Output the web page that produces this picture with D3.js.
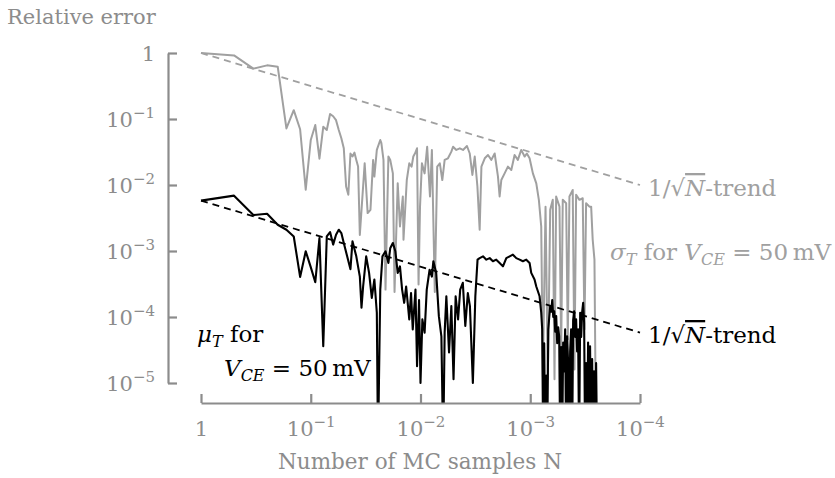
<!DOCTYPE html>
<html>
<head>
<meta charset="utf-8">
<script src="https://cdn.jsdelivr.net/npm/d3@7"></script>
<style>
  body { margin: 0; background: #fff; }
  svg text { font-family: "DejaVu Serif", serif; }
</style>
</head>
<body>
<svg id="chart" width="835" height="478"></svg>
<script>
// values
var sigmaN = [1,2,3,4,5,6,7,8,9,10,11,12,13,14,15,16,17,18,19,20,21,22,23,24,25,26,27,28,
  31,33,35,37,38,40,43,44,46,48,51,53,56,58,62,65,69,70,75,79,83,86,89,93,96,99,103,109,115,122,
  127,135,142,150,158,166,178,191,198,212,228,244,265,281,297,312,330,346,359,385,
  412,442,474,508,526,545,584,626,672,720,771,828,888,931,986,1057,1135,1198,1259,1303,
  1378,1446,1520,1604,1663,1722,1846,1914,1978,2124,2198,2275,2438,2528,2618,2806,3007,3119,3228,3459,
  3589,3707,3846,3981];
var sigmaErr = [1,0.92,0.58,0.65,0.62,0.072,0.136,0.070,0.0085,0.048,
  0.081,0.025,0.076,0.068,0.119,0.11,0.096,0.068,0.051,0.036,
  0.0095,0.0071,0.030,0.027,0.031,0.024,0.019,0.00175,
  0.0213,0.00375,0.0042,0.024,0.0134,0.034,0.048,0.043,0.024,0.00026,
  0.027,0.024,0.015,0.00024,0.0106,0.00235,0.0067,0.00148,0.0119,0.0213,
  0.019,0.027,0.030,0.036,0.00031,0.0047,0.0213,0.015,0.038,0.0067,
  0.034,0.00024,0.019,0.0213,0.0119,0.024,0.0254,0.032,0.038,0.034,
  0.036,0.034,0.039,0.030,0.0142,0.027,0.0095,0.0021,0.019,0.0254,
  0.0285,0.024,0.030,0.0134,0.0067,0.0119,0.015,0.019,0.0169,0.0285,
  0.024,0.034,0.027,0.030,0.0254,0.015,0.0106,0.00596,0.00235,0.0000126,
  0.0047,0.0000114,0.0042,0.00596,0.0000114,0.0067,0.0047,0.000032,0.00596,0.0053,
  0.000046,0.0067,0.0084,0.000016,0.0071,0.00596,0.0063,0.000065,0.0053,0.0047,
  0.0047,0.00148,0.00074,0.000001];

var muN = [1,2,3,4,5,6,7,8,9,10,11,12,13,14,15,16,17,18,19,20,
  23,24,26,28,29,30,32,34,36,38,40,41,43,45,48,51,53,56,59,62,
  65,68,71,74,79,82,85,90,93,97,100,104,109,114,121,127,131,139,147,155,
  161,166,172,182,191,200,209,220,230,243,256,270,282,300,316,331,346,371,398,427,
  457,490,526,564,605,649,695,746,800,857,920,986,1021,1094,1135,1216,1259,
  1285,1312,1340,1369,1398,1428,1459,1490,1521,1553,1586,1620,1654,1689,1724,1760,1797,1835,1874,1913,
  1953,1995,2037,2080,2124,2168,2214,2262,2309,2358,2408,2459,2512,2564,2618,2673,2729,2787,2851,2911,
  2972,3034,3097,3162,3228,3296,3365,3436,3508,3589,3664,3741,3819,3899,3981,4064];
var muErr = [0.0058,0.0069,0.0035,0.00366,0.0025,0.0021,0.00166,0.000405,0.00099,0.00057,
  0.000336,0.00157,0.000036,0.00166,0.00194,0.00125,0.00176,0.0021,0.00187,0.00132,
  0.00053,0.0014,0.00083,0.00041,0.000138,0.00029,0.00083,0.000466,0.000195,0.00037,
  0.000116,0.000001,0.00026,0.00083,0.00099,0.00066,0.0011,0.00132,0.00099,0.000466,
  0.000585,0.00026,0.000164,0.00029,0.000092,0.00023,0.000065,0.00026,0.000018,0.00018,
  0.00001,0.000092,0.000058,0.00026,0.00052,0.00041,0.0007,0.000466,0.000103,0.000051,
  0.000001,0.000058,0.000206,0.000029,0.000146,0.0000114,0.000206,0.000092,0.00026,0.00033,
  0.000073,0.00023,0.000146,0.00001,0.000206,0.00074,0.00078,0.00083,0.00074,0.00078,
  0.0007,0.00074,0.00066,0.000585,0.00078,0.00083,0.00088,0.00078,0.00074,0.0007,
  0.00074,0.00066,0.000466,0.00037,0.00029,0.000206,0.000116,
  0.000065,0.000001,0.00004,0.000001,0.000013,0.000001,0.000065,0.0001,0.000146,0.00012,
  0.00018,0.0001,0.000122,0.00006,0.000103,0.00004,0.00007,0.000051,0.000001,0.000035,
  0.000001,0.000041,0.000015,0.000065,0.000001,0.000051,0.00002,0.000001,0.00003,0.000065,
  0.000001,0.00009,0.000122,0.00005,0.000092,0.00003,0.000065,0.000001,0.000116,0.00005,
  0.00012,0.000164,0.000082,0.000001,0.00002,0.000001,0.000041,0.000001,0.000036,0.000001,
  0.000023,0.000001,0.000015,0.000001,0.00002,0.000001];

var trendN = [1, 10000];
var sigmaTrend = [1, 0.01];
var muTrend = [0.0058, 0.000058];

var xTicks = [1, 10, 100, 1000, 10000];
var xTickExp = ["", "\u22121", "\u22122", "\u22123", "\u22124"];
var yTicks = [1, 1e-1, 1e-2, 1e-3, 1e-4, 1e-5];
var yTickExp = ["", "\u22121", "\u22122", "\u22123", "\u22124", "\u22125"];

var axisGray = "#8c8c8c",
    lineGray = "#a0a0a0";

var svg = d3.select("#chart");

var x = d3.scaleLog().domain([1, 1e4]).range([201, 640]);
var y = d3.scaleLog().domain([1e-5, 1]).range([383, 53]);

var zip = function(a, b) { return a.map(function(v, i) { return [v, b[i]]; }); };

var line = d3.line()
    .x(function(d) { return x(d[0]); })
    .y(function(d) { return y(d[1]); });

svg.append("clipPath").attr("id", "plotclip")
  .append("rect").attr("x", 190).attr("y", 30).attr("width", 470).attr("height", 373);

var plot = svg.append("g").attr("clip-path", "url(#plotclip)");

plot.append("path").datum(zip(trendN, sigmaTrend))
    .attr("d", line).attr("fill", "none")
    .attr("stroke", lineGray).attr("stroke-width", 1.8).attr("stroke-dasharray", "7,5");

plot.append("path").datum(zip(sigmaN, sigmaErr))
    .attr("d", line).attr("fill", "none")
    .attr("stroke", lineGray).attr("stroke-width", 2).attr("stroke-linejoin", "round");

plot.append("path").datum(zip(trendN, muTrend))
    .attr("d", line).attr("fill", "none")
    .attr("stroke", "#000").attr("stroke-width", 1.8).attr("stroke-dasharray", "7,5");

plot.append("path").datum(zip(muN, muErr))
    .attr("d", line).attr("fill", "none")
    .attr("stroke", "#000").attr("stroke-width", 2.1).attr("stroke-linejoin", "round");

// axes
function powLabel(sel, exps) {
  sel.each(function(d, i) {
    var t = d3.select(this).text(null);
    if (exps[i] === "") { t.append("tspan").text("1"); return; }
    t.append("tspan").text("10");
    t.append("tspan").attr("font-size", 15).attr("dy", -9).text(exps[i]);
  });
}

var yAxis = d3.axisLeft(y).tickValues(yTicks).tickSize(-9).tickSizeOuter(0).tickPadding(13).tickFormat("");
var gy = svg.append("g").attr("transform", "translate(168,0)").call(yAxis);
var xAxis = d3.axisBottom(x).tickValues(xTicks).tickSize(-9).tickSizeOuter(0).tickPadding(14).tickFormat("");
var gx = svg.append("g").attr("transform", "translate(0,403)").call(xAxis);

[gy, gx].forEach(function(g) {
  g.select(".domain").attr("stroke", axisGray).attr("stroke-width", 2.2);
  g.selectAll(".tick line").attr("stroke", axisGray).attr("stroke-width", 2.2);
  g.selectAll(".tick text").attr("fill", axisGray).attr("font-size", 21)
    .attr("font-family", "DejaVu Serif");
});
gy.selectAll(".tick text").attr("dy", "0.36em").call(powLabel, yTickExp);
gx.selectAll(".tick text").attr("y", 33).attr("dy", 0).call(powLabel, xTickExp);

// titles
svg.append("text").attr("x", 7).attr("y", 24).attr("fill", axisGray).attr("font-size", 21)
    .text("Relative error");
svg.append("text").attr("x", 420).attr("y", 469).attr("text-anchor", "middle")
    .attr("fill", axisGray).attr("font-size", 21.5).text("Number of MC samples N");

// rich labels
function richText(px, py, color, parts) {
  var t = svg.append("text").attr("x", px).attr("y", py).attr("fill", color).attr("font-size", 23);
  parts.forEach(function(p) {
    var s = t.append("tspan").text(p.t);
    if (p.i) s.attr("font-style", "italic");
    if (p.sub) s.attr("font-size", 16).attr("dy", 5);
    if (p.up) s.attr("dy", -5);
    if (p.bar) s.style("text-decoration", "overline");
  });
  return t;
}

var trendParts = [{t: "1/\u221A"}, {t: "N", i: true, bar: true}, {t: "-trend"}];
richText(648, 196, lineGray, trendParts);
richText(648, 343, "#000", trendParts);

richText(610, 260, lineGray, [
  {t: "\u03C3", i: true}, {t: "T", i: true, sub: true}, {t: " for ", up: true},
  {t: "V", i: true}, {t: "CE", i: true, sub: true}, {t: " = 50\u2009mV", up: true}
]);
richText(197, 342, "#000", [
  {t: "\u03BC", i: true}, {t: "T", i: true, sub: true}, {t: " for", up: true}
]);
richText(224, 376, "#000", [
  {t: "V", i: true}, {t: "CE", i: true, sub: true}, {t: " = 50\u2009mV", up: true}
]);
</script>
</body>
</html>
